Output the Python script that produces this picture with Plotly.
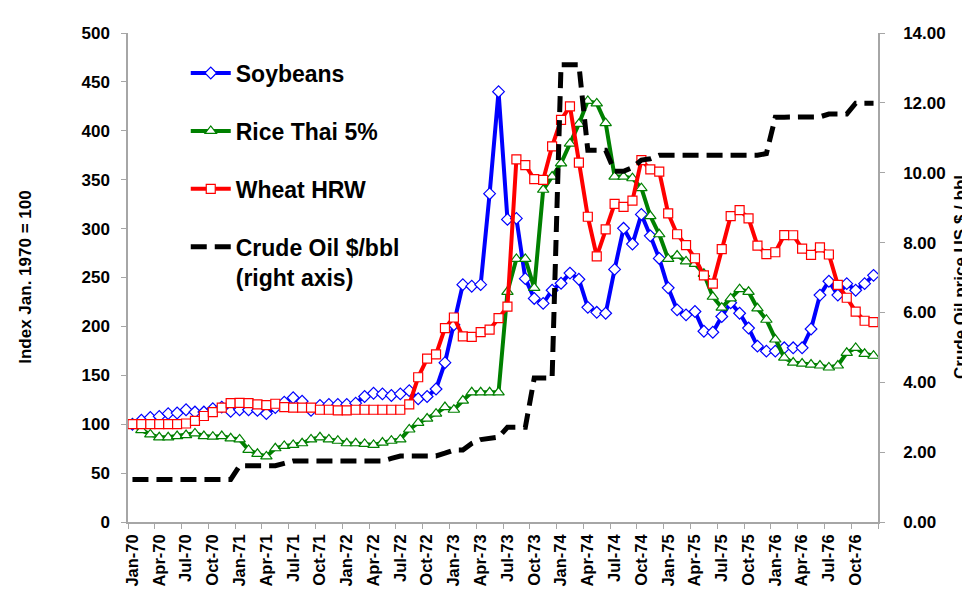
import plotly.graph_objects as go

# monthly points, Jan-70 .. Dec-76 (category positions 0..83)
months = list(range(84))

tick_pos = [0, 3, 6, 9, 12, 15, 18, 21, 24, 27, 30, 33, 36, 39,
            42, 45, 48, 51, 54, 57, 60, 63, 66, 69, 72, 75, 78, 81]
tick_labels = ["Jan-70", "Apr-70", "Jul-70", "Oct-70", "Jan-71", "Apr-71", "Jul-71",
               "Oct-71", "Jan-72", "Apr-72", "Jul-72", "Oct-72", "Jan-73", "Apr-73",
               "Jul-73", "Oct-73", "Jan-74", "Apr-74", "Jul-74", "Oct-74", "Jan-75",
               "Apr-75", "Jul-75", "Oct-75", "Jan-76", "Apr-76", "Jul-76", "Oct-76"]

soybeans = [100, 104, 106.8, 108, 110.8, 111.4, 114.8, 112.4, 112.4, 115.8,
            117.5, 113.1, 114.8, 114.8, 114.1, 110.8, 116.9, 122.5, 127, 123.5,
            114.1, 119.2, 120.2, 120.2, 120.2, 121.5, 128.3, 131.6, 131, 129.3,
            131, 134.3, 126, 128.3, 136, 162.9, 201.7, 242.7, 241.1, 242.7,
            335.7, 440, 309.4, 310.4, 248.8, 228.6, 223.5, 237, 244.1, 254.5,
            248.2, 219.5, 214.4, 213.4, 258.3, 300.3, 284.2, 314.5, 292.6, 269.5,
            239.4, 216.9, 211.8, 215.2, 195, 194, 210.1, 224.2, 213.4, 198.3,
            179.8, 174.7, 174.7, 178.1, 178.1, 178.1, 197.3, 232, 246.2, 232,
            243.7, 237, 243.7, 252.2]

rice = [100, 93.9, 89.6, 86.6, 86.6, 87.9, 88.9, 90.6, 87.9, 87.2,
        87.9, 85.6, 84.5, 73.7, 69.7, 67, 75.4, 77.8, 78.8, 80.5,
        84.5, 86.6, 84.5, 83.1, 80.5, 80.5, 79.8, 78.8, 81.2, 83.1,
        84.5, 94.6, 101.3, 105.8, 110.8, 117.5, 114.8, 124.2, 132.6, 132.6,
        132.6, 132.6, 235.4, 269, 269, 239.4, 339.7, 353.2, 366.7, 386.9,
        407.1, 430.6, 428, 407.8, 353.2, 353.2, 351.5, 341.4, 312.8, 294.2,
        269, 272.4, 266.4, 264, 253.8, 230.3, 219.2, 228.6, 238.1, 235.4,
        218.5, 206.8, 186.6, 168, 163, 162, 161, 160, 158, 160,
        173, 178, 172, 170]

wheat = [100, 100, 100, 100, 100, 100, 100.7, 103.3, 108.4, 112.4,
         116.9, 121.5, 121.9, 121.5, 120.2, 119.5, 120.9, 117.5, 116.9, 116.9,
         116.9, 114.8, 114.8, 114.1, 114.1, 114.8, 114.8, 114.8, 114.8, 114.8,
         114.8, 120.2, 148, 167, 171.4, 198.3, 209.1, 189.9, 189.2, 194.2,
         196.7, 208.4, 220.2, 370.7, 365, 350.5, 349.8, 384.1, 411.1, 425,
         367.4, 312.1, 271.7, 299.3, 325.3, 322.2, 328.6, 370, 360.6, 358.3,
         315.5, 294.2, 283.1, 269.7, 252.2, 243.7, 279.1, 312.8, 318.9, 310.4,
         282.5, 274, 275.8, 293.4, 293.2, 279.5, 273.2, 280.8, 273.5, 242.4,
         229.3, 215.2, 205.8, 204.4]

crude_oil = [1.22, 1.22, 1.22, 1.22, 1.22, 1.22, 1.22, 1.22, 1.22, 1.22,
             1.22, 1.22, 1.61, 1.61, 1.61, 1.61, 1.61, 1.68, 1.75, 1.75,
             1.75, 1.75, 1.75, 1.75, 1.75, 1.75, 1.75, 1.75, 1.75, 1.82,
             1.89, 1.89, 1.89, 1.89, 1.89, 1.97, 2.06, 2.06, 2.25, 2.36,
             2.40, 2.43, 2.71, 2.71, 2.71, 4.12, 4.12, 4.12, 13.09, 13.09,
             13.09, 10.64, 10.64, 10.64, 10.04, 10.04, 10.15, 10.36, 10.40, 10.50,
             10.50, 10.50, 10.50, 10.50, 10.50, 10.50, 10.50, 10.50, 10.50, 10.50,
             10.50, 10.55, 11.59, 11.59, 11.59, 11.59, 11.60, 11.60, 11.68, 11.68,
             11.68, 11.99, 11.99, 11.99]

FONT = "Liberation Sans, Arial, sans-serif"
AXIS_GREY = "#A6A6A6"

fig = go.Figure()
fig.add_trace(go.Scatter(
    x=months, y=soybeans, name="Soybeans", legendgroup="soy", mode="lines+markers",
    line=dict(color="#0000FF", width=4),
    marker=dict(symbol="diamond", size=9, color="white", line=dict(color="#0000FF", width=1.2)),
))
fig.add_trace(go.Scatter(
    x=months, y=rice, name="Rice Thai 5%", legendgroup="rice", mode="lines+markers",
    line=dict(color="#008000", width=4),
    marker=dict(symbol="triangle-up", size=10, color="white", line=dict(color="#008000", width=1.2)),
))
fig.add_trace(go.Scatter(
    x=months, y=wheat, name="Wheat HRW", legendgroup="wheat", mode="lines+markers",
    line=dict(color="#FF0000", width=4),
    marker=dict(symbol="square", size=9, color="white", line=dict(color="#FF0000", width=1.2)),
))
fig.add_trace(go.Scatter(
    x=months, y=crude_oil, name="Crude Oil $/bbl<br>(right axis)", legendgroup="oil",
    mode="lines", yaxis="y2",
    line=dict(color="black", width=5, dash="16px,8px"),
))

tick_style = dict(ticks="outside", ticklen=5, tickcolor=AXIS_GREY, tickwidth=1,
                  showline=True, linecolor=AXIS_GREY, linewidth=1.5,
                  showgrid=False, zeroline=False,
                  tickfont=dict(family=FONT, size=17, color="black", weight="bold"))

fig.update_layout(
    width=970, height=591,
    margin=dict(l=120, r=100, t=25, b=68),
    plot_bgcolor="white", paper_bgcolor="white",
    font=dict(family=FONT, color="black"),
    xaxis=dict(
        range=[-0.5, 83.5], tickmode="array", tickvals=tick_pos, ticktext=tick_labels,
        tickangle=-90, ticks="", showline=True, linecolor=AXIS_GREY, linewidth=1.5,
        showgrid=False, zeroline=False, ticklabelstandoff=4,
        tickfont=dict(family=FONT, size=16.5, color="black", weight="bold"),
        minor=dict(tickmode="linear", tick0=-0.5, dtick=3, ticks="outside",
                   ticklen=5, tickcolor=AXIS_GREY, showgrid=False),
    ),
    yaxis=dict(range=[0, 500], dtick=50, ticklabelstandoff=8, **tick_style),
    yaxis2=dict(range=[0, 14], dtick=2, tickformat=".2f", overlaying="y", side="right",
                ticklabelstandoff=15, **tick_style),
    legend=dict(
        x=0.077, y=0.962, xanchor="left", yanchor="top", itemwidth=40,
        font=dict(family=FONT, size=23, color="black", weight="bold"),
        bgcolor="rgba(0,0,0,0)", tracegroupgap=25, valign="top",
    ),
    annotations=[
        dict(text="Index Jan. 1970 = 100", xref="paper", yref="paper", x=-0.137, y=0.5,
             textangle=-90, showarrow=False, xanchor="center", yanchor="middle",
             font=dict(family=FONT, size=17, color="black", weight="bold")),
        dict(text="Crude Oil price US $ / bbl", xref="paper", yref="paper", x=1.11, y=0.5,
             textangle=-90, showarrow=False, xanchor="center", yanchor="middle",
             font=dict(family=FONT, size=17, color="black", weight="bold")),
    ],
)

fig.write_html("out.html")
